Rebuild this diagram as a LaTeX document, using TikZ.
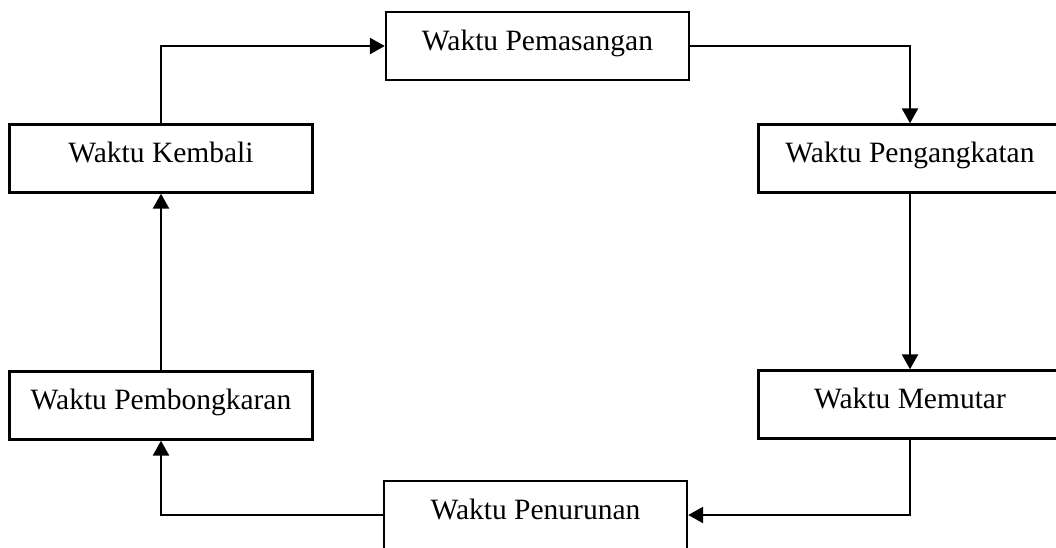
\documentclass[tikz,border=0pt]{standalone}
\usepackage{fontspec}
\setmainfont{Liberation Serif}
\usetikzlibrary{arrows.meta}
\begin{document}
\begin{tikzpicture}[x=1pt,y=-1pt,
  stepbox/.style={draw=black,line width=2.4pt,rectangle,inner sep=0pt,
    minimum width=303pt,minimum height=68pt,
    text height=20pt,text depth=12pt,
    font=\fontsize{29.5}{34}\selectfont},
  arr/.style={line width=2.6pt,-{Triangle[length=15pt,width=16pt]}}]
\clip (0,0) rectangle (1056,547);
\fill[white] (0,0) rectangle (1056,547);
\node[stepbox] (pem)  at (537.5,46)  {Waktu Pemasangan};
\node[stepbox] (kem)  at (161,158.5) {Waktu Kembali};
\node[stepbox] (ang)  at (910,158.5) {Waktu Pengangkatan};
\node[stepbox] (bong) at (161,405.5) {Waktu Pembongkaran};
\node[stepbox] (mem)  at (910,404.5) {Waktu Memutar};
\node[stepbox] (tur)  at (535.5,515) {Waktu Penurunan};
\draw[arr] (kem.north) |- (pem.west);
\draw[arr] (pem.east) -| (ang.north);
\draw[arr] (ang.south) -- (mem.north);
\draw[arr] (mem.south) |- (tur.east);
\draw[arr] (tur.west) -| (bong.south);
\draw[arr] (bong.north) -- (kem.south);
\end{tikzpicture}
\end{document}
